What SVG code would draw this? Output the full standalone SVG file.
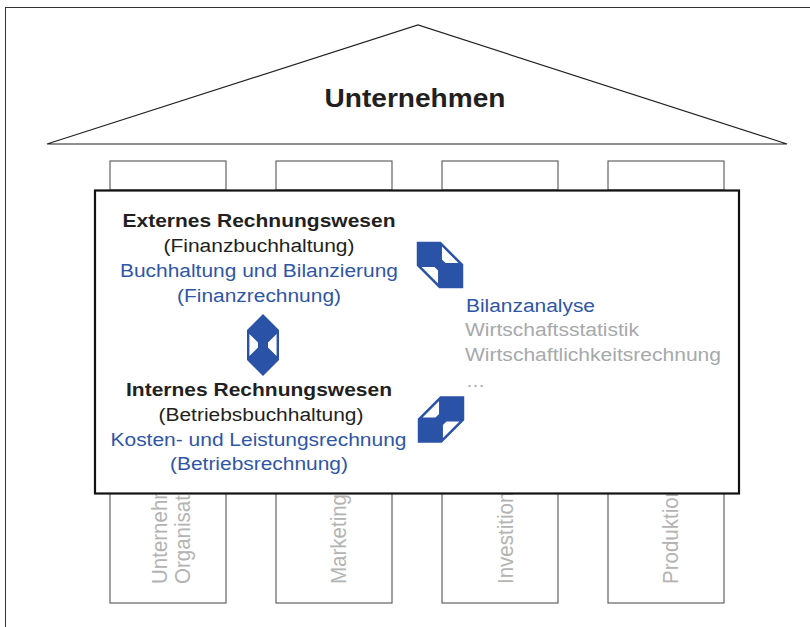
<svg xmlns="http://www.w3.org/2000/svg" width="810" height="627" viewBox="0 0 810 627">
<defs>
<style>
.frame{fill:none;stroke:#333;stroke-width:1}
.roof{fill:#fff;stroke:#222;stroke-width:1.2}
.cap{fill:#fff;stroke:#555;stroke-width:1.1}
.main{fill:#fff;stroke:#111;stroke-width:2.2}
.t{font-family:"Liberation Sans",Arial,sans-serif;font-size:18px}
.c{text-anchor:middle}
.b{font-weight:bold;fill:#231f20}
.k{fill:#231f20}
.bl{fill:#2f56a6}
.g{fill:#a7a9ac}
.v{font-family:"Liberation Sans",Arial,sans-serif;font-size:20.5px;fill:#b3b3b3}
.arr{fill:#2a52a7;fill-rule:evenodd}
</style>
<path id="dbl" d="M0,-31 L16,-15 L16,15 L0,31 L-16,15 L-16,-15 Z M-13.6,-11 L-5,-2.4 L-5,2.4 L-13.6,11 Z M13.6,-11 L5,-2.4 L5,2.4 L13.6,11 Z"/>
</defs>
<rect class="frame" x="5.5" y="7.5" width="810" height="630"/>
<g id="roof">
<polygon class="roof" points="47,144 418,25 787,144"/>
<text class="t c b" x="415" y="107" style="font-size:26px" textLength="181" lengthAdjust="spacingAndGlyphs">Unternehmen</text>
</g>
<g id="pillar1">
<rect class="cap" x="110" y="161" width="116" height="29"/>
<rect class="cap" x="110" y="493" width="116" height="110"/>
<text class="v" transform="translate(166.7,584) scale(1.09,1) rotate(-90)">Unternehmen</text>
<text class="v" transform="translate(189.5,584) scale(1.09,1) rotate(-90)">Organisation</text>
</g>
<g id="pillar2">
<rect class="cap" x="276" y="161" width="116" height="29"/>
<rect class="cap" x="276" y="493" width="116" height="110"/>
<text class="v" transform="translate(345.7,584) scale(1.09,1) rotate(-90)">Marketing</text>
</g>
<g id="pillar3">
<rect class="cap" x="442" y="161" width="116" height="29"/>
<rect class="cap" x="442" y="493" width="116" height="110"/>
<text class="v" transform="translate(512.7,584) scale(1.09,1) rotate(-90)">Investition</text>
</g>
<g id="pillar4">
<rect class="cap" x="608" y="161" width="116" height="29"/>
<rect class="cap" x="608" y="493" width="116" height="110"/>
<text class="v" transform="translate(678.3,584) scale(1.09,1) rotate(-90)">Produktion</text>
</g>
<g id="rechnungswesen">
<rect class="main" x="95" y="190.5" width="644" height="303"/>
</g>
<g id="extern">
<text class="t c b" x="259" y="227" textLength="273" lengthAdjust="spacingAndGlyphs">Externes Rechnungswesen</text>
<text class="t c k" x="259" y="252" textLength="191" lengthAdjust="spacingAndGlyphs">(Finanzbuchhaltung)</text>
<text class="t c bl" x="259" y="277" textLength="278" lengthAdjust="spacingAndGlyphs">Buchhaltung und Bilanzierung</text>
<text class="t c bl" x="259" y="302" textLength="164" lengthAdjust="spacingAndGlyphs">(Finanzrechnung)</text>
</g>
<g id="intern">
<text class="t c b" x="259" y="396" textLength="266" lengthAdjust="spacingAndGlyphs">Internes Rechnungswesen</text>
<text class="t c k" x="261" y="421" textLength="205" lengthAdjust="spacingAndGlyphs">(Betriebsbuchhaltung)</text>
<text class="t c bl" x="258.5" y="445.5" textLength="296" lengthAdjust="spacingAndGlyphs">Kosten- und Leistungsrechnung</text>
<text class="t c bl" x="259" y="470" textLength="178" lengthAdjust="spacingAndGlyphs">(Betriebsrechnung)</text>
</g>
<g id="analyse">
<text class="t bl" x="466" y="311.5" textLength="129" lengthAdjust="spacingAndGlyphs">Bilanzanalyse</text>
<text class="t g" x="465" y="336" textLength="174" lengthAdjust="spacingAndGlyphs">Wirtschaftsstatistik</text>
<text class="t g" x="465" y="360.5" textLength="256" lengthAdjust="spacingAndGlyphs">Wirtschaftlichkeitsrechnung</text>
<text class="t g" x="466" y="387" textLength="19" lengthAdjust="spacingAndGlyphs">…</text>
</g>
<g id="connectors">
<use href="#dbl" class="arr" transform="translate(263,345)"/>
<use href="#dbl" class="arr" transform="translate(440,265) rotate(-45) scale(1.06)"/>
<use href="#dbl" class="arr" transform="translate(441,419.5) rotate(45) scale(1.06)"/>
</g>
</svg>
